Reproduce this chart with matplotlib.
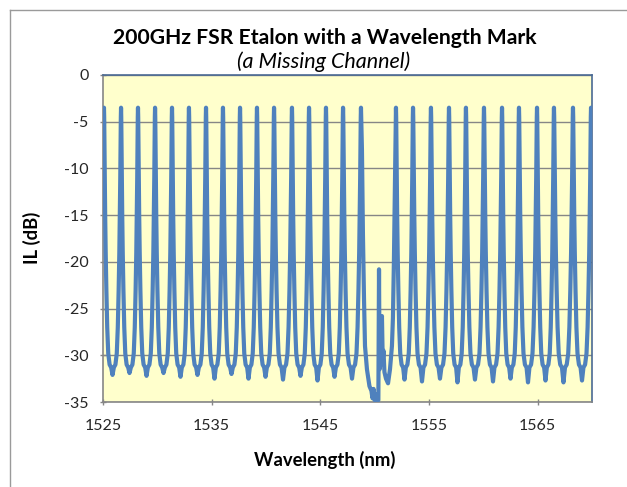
import matplotlib.pyplot as plt
from matplotlib.lines import Line2D

# transmission peaks (nm); one channel near 1550.3 is missing
peak_wl = [1525.09, 1526.66, 1528.22, 1529.79, 1531.35, 1532.91, 1534.48,
           1536.04, 1537.61, 1539.17, 1540.74, 1542.39, 1543.96, 1545.52,
           1547.09, 1548.74, 1551.96, 1553.53, 1555.18, 1556.84, 1558.40,
           1560.06, 1561.72, 1563.28, 1564.94, 1566.50, 1568.25, 1569.91]
peak_il = -3.5
# bottom of each fringe between two peaks (None = the missing channel gap)
valley_il = [-32.1, -31.9, -32.2, -31.9, -32.3, -32.1, -32.5, -32.0, -32.5,
             -32.3, -32.6, -32.2, -32.7, -32.3, -32.5, None,
             -32.6, -32.8, -32.5, -32.9, -32.6, -32.8, -32.5, -32.9, -32.7,
             -32.9, -32.7]
# half a fringe: fraction of the peak spacing from the peak, IL (dB)
half_pos = [0.0, 0.012, 0.025, 0.045, 0.07, 0.10, 0.14, 0.19, 0.25, 0.33, 0.42]
half_il = [-3.5, -4.5, -7.0, -11.0, -15.0, -19.0, -23.0, -27.0, -29.8, -31.0, -31.3]
# trace across the missing channel (the wavelength mark)
gap_wl = [1548.83, 1548.92, 1549.02, 1549.11, 1549.29, 1549.52, 1549.70,
          1549.80, 1549.90, 1550.00, 1550.10, 1550.22, 1550.34, 1550.40,
          1550.45, 1550.52, 1550.58, 1550.67, 1550.74, 1550.81, 1550.90,
          1551.04, 1551.23, 1551.41, 1551.59, 1551.68, 1551.77, 1551.87]
gap_il = [-8.0, -17.0, -24.0, -29.0, -31.5, -33.3, -33.8, -34.6, -33.6,
          -34.8, -34.2, -34.9, -34.8, -20.8, -31.5, -29.0, -31.0, -25.8,
          -30.5, -29.5, -31.8, -32.5, -33.0, -31.5, -29.0, -26.0, -20.0, -11.0]

wl, il = [1525.0], [-5.5]
for i in range(len(peak_wl) - 1):
    a, b = peak_wl[i], peak_wl[i + 1]
    if valley_il[i] is None:
        wl += [a] + gap_wl
        il += [peak_il] + gap_il
        continue
    d = b - a
    wl += [a + p * d for p in half_pos] + [a + d / 2] + [b - p * d for p in half_pos[:0:-1]]
    il += half_il + [valley_il[i]] + half_il[:0:-1]
wl += [peak_wl[-1], 1570.0]
il += [peak_il, -5.5]

plt.rcParams['font.family'] = ['Lato', 'DejaVu Sans']
plt.rcParams['axes.unicode_minus'] = False
fig = plt.figure(figsize=(6.27, 4.87), dpi=100)
ax = fig.add_axes([103 / 627, 1 - 402 / 487, 489 / 627, 327 / 487])
ax.set_facecolor('#FFFFCC')

ax.plot(wl, il, color='#4F81BD', lw=3.0, solid_joinstyle='round', zorder=3)

ax.set_xlim(1525, 1570)
ax.set_ylim(-35, 0)
ax.set_xticks([1525, 1535, 1545, 1555, 1565])
ax.set_yticks(range(-35, 1, 5))
ax.grid(axis='y', color='#868686', lw=1.0)
ax.set_axisbelow(True)
ax.tick_params(colors='#868686', labelcolor='#262626', labelsize=11.5,
               length=5, width=1.0, direction='inout')
ax.tick_params(axis='x', pad=10)
ax.tick_params(axis='y', pad=8)
for s in ['left', 'bottom']:
    ax.spines[s].set_color('#868686')
for s in ['top', 'right']:
    ax.spines[s].set_color('#4A6A94')
for s in ax.spines.values():
    s.set_linewidth(1.2)

fig.text(325 / 627, 1 - 460 / 487, 'Wavelength (nm)', ha='center', va='center',
         fontsize=13.3, fontweight='bold')
fig.text(32 / 627, 1 - 238 / 487, 'IL (dB)', ha='center', va='center',
         rotation=90, fontsize=13.3, fontweight='bold')

fig.text(325 / 627, 1 - 38 / 487, '200GHz FSR Etalon with a Wavelength Mark',
         ha='center', va='center', fontsize=15.2, fontweight='bold')
fig.text(324 / 627, 1 - 62 / 487, '(a Missing Channel)', ha='center', va='center',
         fontsize=15.5, style='italic')

# chart area frame
fig.add_artist(Line2D([10 / 627, 10 / 627], [0, 1 - 10 / 487], color='#9A9A9A', lw=1.0))
fig.add_artist(Line2D([10 / 627, 1], [1 - 10 / 487, 1 - 10 / 487], color='#9A9A9A', lw=1.0))

fig.savefig('out.png', dpi=100)
